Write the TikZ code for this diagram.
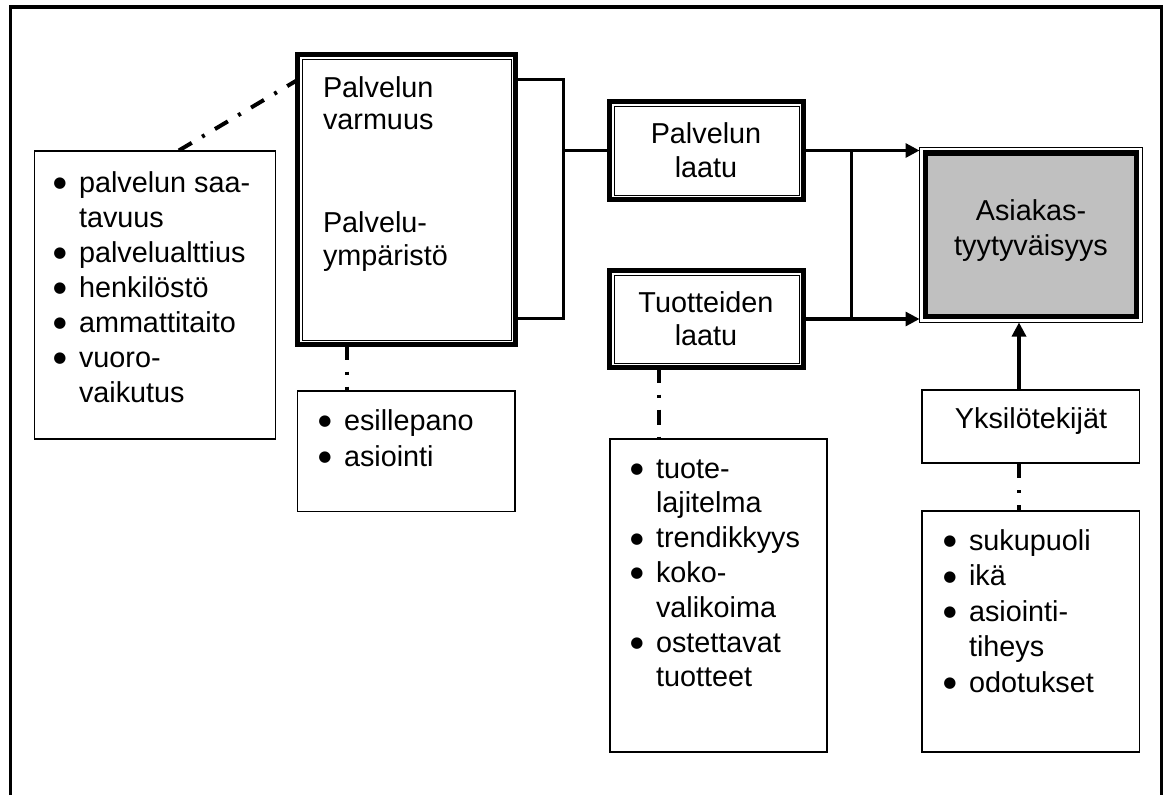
\documentclass[tikz,border=0pt]{standalone}
\usepackage{fontspec}
\setmainfont{Liberation Sans}
\newfontfamily\bulletfont{DejaVu Sans}
\usetikzlibrary{arrows.meta,calc}
\definecolor{asgray}{RGB}{192,192,192}
\newcommand{\blt}{\makebox[27pt][l]{\makebox[16pt][c]{\raisebox{4.5pt}{\bulletfont\fontsize{15}{15}\selectfont ●}}}}
\begin{document}
\begin{tikzpicture}[x=1pt,y=-1pt,
  thinbox/.style={draw, line width=1.3pt, inner sep=0pt, outer sep=0pt},
  thickbox/.style={draw, line width=5pt, inner sep=0pt, outer sep=0pt},
  lbl/.style={inner sep=0pt, outer sep=0pt, font=\fontsize{28.8}{33.5}\selectfont},
  conn/.style={line width=3pt},
  arr/.style={line width=3.2pt, -{Triangle[length=14pt,width=14pt]}},
  dd/.style={line width=4pt, dash pattern=on 15pt off 12pt on 3pt off 12pt},
  inner/.style={line width=1pt}
]
\useasboundingbox (0,0) rectangle (1169,795);

% frame (open at the bottom)
\draw[line width=3.5pt] (10.5,795) -- (10.5,6.8) -- (1161.3,6.8) -- (1161.3,795);

% boxes
\node[thinbox, minimum width=241pt, minimum height=288pt] (box1) at (154.8,295) {};
\node[thickbox, minimum width=218pt, minimum height=290pt] (pv) at (406.5,199.5) {};
\draw[inner] ([shift={(4.5,4.5)}]pv.north west) rectangle ([shift={(-4.5,-4.5)}]pv.south east);
\node[thickbox, minimum width=194pt, minimum height=98pt] (pl) at (706.5,150.5) {};
\draw[inner] ([shift={(4.5,4.5)}]pl.north west) rectangle ([shift={(-4.5,-4.5)}]pl.south east);
\node[thickbox, minimum width=194pt, minimum height=97pt] (tl) at (706.5,319) {};
\draw[inner] ([shift={(4.5,4.5)}]tl.north west) rectangle ([shift={(-4.5,-4.5)}]tl.south east);
\node[thickbox, line width=5.5pt, fill=asgray, minimum width=211pt, minimum height=163.5pt] (as) at (1031,234.75) {};
\draw[inner] ([shift={(-6,-6)}]as.north west) rectangle ([shift={(6,6)}]as.south east);
\node[thinbox, minimum width=217.3pt, minimum height=120.7pt] (eb) at (406.35,451.35) {};
\node[thinbox, minimum width=217pt, minimum height=313pt] (tb) at (718.5,595.5) {};
\node[thinbox, minimum width=217.5pt, minimum height=73pt] (yk) at (1030.75,426.5) {};
\node[thinbox, minimum width=217.5pt, minimum height=241pt] (yb) at (1030.75,631.5) {};

% labels
\node[lbl, anchor=base west, font=\fontsize{28.8}{32.5}\selectfont] (pvt1) at (323,97) {\begin{tabular}[t]{@{}l@{}}Palvelun\\varmuus\end{tabular}};
\node[lbl, anchor=base west, font=\fontsize{28.8}{33}\selectfont] (pvt2) at (323,232) {\begin{tabular}[t]{@{}l@{}}Palvelu-\\ympäristö\end{tabular}};
\node[lbl, anchor=base, font=\fontsize{28.8}{34}\selectfont] (plt) at (706,143) {\begin{tabular}[t]{@{}c@{}}Palvelun\\laatu\end{tabular}};
\node[lbl, anchor=base, font=\fontsize{28.8}{33}\selectfont] (tlt) at (706,312) {\begin{tabular}[t]{@{}c@{}}Tuotteiden\\laatu\end{tabular}};
\node[lbl, anchor=base, font=\fontsize{28.8}{35}\selectfont] (ast) at (1031,220) {\begin{tabular}[t]{@{}c@{}}Asiakas-\\tyytyväisyys\end{tabular}};
\node[lbl, anchor=base] (ykt) at (1031,428) {Yksilötekijät};

% lists
\node[lbl, anchor=base west, font=\fontsize{28.8}{35}\selectfont] (l1) at (52,192) {\begin{tabular}[t]{@{}l@{}l@{}}\blt&palvelun saa-\\&tavuus\\\blt&palvelualttius\\\blt&henkilöstö\\\blt&ammattitaito\\\blt&vuoro-\\&vaikutus\end{tabular}};
\node[lbl, anchor=base west, font=\fontsize{28.8}{36}\selectfont] (l2) at (317,430) {\begin{tabular}[t]{@{}l@{}l@{}}\blt&esillepano\\\blt&asiointi\end{tabular}};
\node[lbl, anchor=base west, font=\fontsize{28.8}{34.8}\selectfont] (l3) at (629,478) {\begin{tabular}[t]{@{}l@{}l@{}}\blt&tuote-\\&lajitelma\\\blt&trendikkyys\\\blt&koko-\\&valikoima\\\blt&ostettavat\\&tuotteet\end{tabular}};
\node[lbl, anchor=base west, font=\fontsize{28.8}{35.5}\selectfont] (l4) at (942,550) {\begin{tabular}[t]{@{}l@{}l@{}}\blt&sukupuoli\\\blt&ikä\\\blt&asiointi-\\&tiheys\\\blt&odotukset\end{tabular}};

% solid connectors
\coordinate (bt) at (563,79);
\coordinate (bb) at (563,318);
\draw[conn] (pv.east |- bt) -- (bt) -- (bb) -- (pv.east |- bb);
\draw[conn] (bt |- pl.west) -- (pl.west);
\coordinate (jn) at (851,0);
\coordinate (asl) at ([xshift=-6pt]as.west);
\coordinate (asb) at ([yshift=-6pt]as.south);
\draw[arr] (pl.east) -- (asl |- pl.east);
\draw[arr] (tl.east) -- (asl |- tl.east);
\draw[conn] (jn |- pl.east) -- (jn |- tl.east);
\coordinate (upx) at (1019,0);
\draw[arr] (upx |- yk.north) -- (upx |- asb);

% dash-dot connectors
\coordinate (d1) at (178,0);
\draw[dd, dash phase=3pt] ([yshift=-25.5pt]pv.north west) -- (d1 |- box1.north);
\coordinate (d2) at (347,0);
\draw[dd] (d2 |- pv.south) -- (d2 |- eb.north);
\coordinate (d3) at (658.5,0);
\draw[dd] (d3 |- tl.south) -- (d3 |- tb.north);
\coordinate (d4) at (1019,0);
\draw[dd] (d4 |- yk.south) -- (d4 |- yb.north);
\end{tikzpicture}
\end{document}
